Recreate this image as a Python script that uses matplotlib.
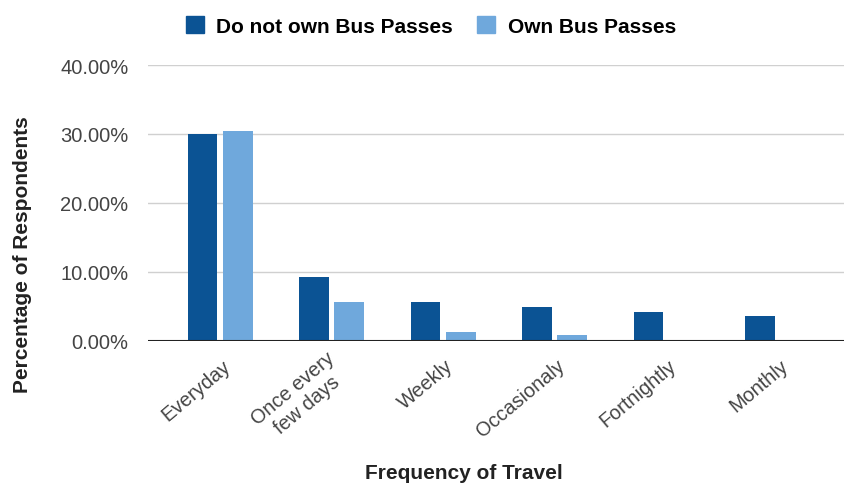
import numpy as np
import matplotlib
matplotlib.use("Agg")
import matplotlib.pyplot as plt
import matplotlib.transforms as mtransforms
from matplotlib.patches import Patch

plt.rcParams['font.family'] = ['Liberation Sans', 'DejaVu Sans']

# survey results, percent of respondents
categories = ["Everyday", "Once every\nfew days", "Weekly", "Occasionaly", "Fortnightly", "Monthly"]
no_pass = [30.0, 9.3, 5.65, 5.0, 4.15, 3.65]
own_pass = [30.5, 5.65, 1.3, 0.9, 0.0, 0.0]
series_names = ["Do not own Bus Passes", "Own Bus Passes"]
y_ticks = [0, 10, 20, 30, 40]

dark = "#0b5394"
light = "#6fa8dc"

W, H, DPI = 845, 485, 100
fig = plt.figure(figsize=(W / DPI, H / DPI), dpi=DPI)
# axes box in pixels: left 148, right 845, top 66, bottom 342
ax = fig.add_axes([148 / W, (H - 342) / H, (845 - 148) / W, (342 - 66) / H])

x = np.arange(len(categories))
bw = 0.265
off = 0.159
ax.bar(x - off, no_pass, bw, color=dark, zorder=3)
ax.bar(x + off, own_pass, bw, color=light, zorder=3)

ax.set_xlim(-0.646, 5.605)
ax.set_ylim(0, 40)
ax.set_yticks(y_ticks)
ax.set_yticklabels([f"{v:.2f}%" for v in y_ticks])
ax.grid(axis='y', color='#d0d0d0', linewidth=1, zorder=0)
ax.axhline(0, color='#222222', linewidth=1.5, zorder=4)
for s in ax.spines.values():
    s.set_visible(False)

ax.tick_params(axis='y', length=0, pad=14, labelsize=14.5, labelcolor='#444444')
ax.tick_params(axis='x', length=0, pad=16, labelsize=14.3, labelcolor='#444444')
ax.set_xticks(x)
ax.set_xticklabels(categories, rotation=40, ha='right', va='center',
                   rotation_mode='anchor', multialignment='center')
shift = mtransforms.ScaledTranslation(8 / DPI, 0, fig.dpi_scale_trans)
for lab in ax.get_xticklabels():
    lab.set_transform(lab.get_transform() + shift)

fig.text(464 / W, 1 - 474 / H, "Frequency of Travel", ha='center', va='center',
         fontsize=15, fontweight='bold', color='#222222')
fig.text(23 / W, 1 - 255 / H, "Percentage of Respondents", ha='center', va='center',
         rotation=90, fontsize=15, fontweight='bold', color='#222222')

handles = [Patch(color=dark), Patch(color=light)]
fig.legend(handles, series_names, loc='center', bbox_to_anchor=(431 / W, 1 - 27 / H),
           ncol=2, frameon=False, handlelength=0.85, handleheight=0.85,
           handletextpad=0.6, columnspacing=1.17,
           prop={'size': 15, 'weight': 'bold'})

fig.savefig("out.png", dpi=DPI)
